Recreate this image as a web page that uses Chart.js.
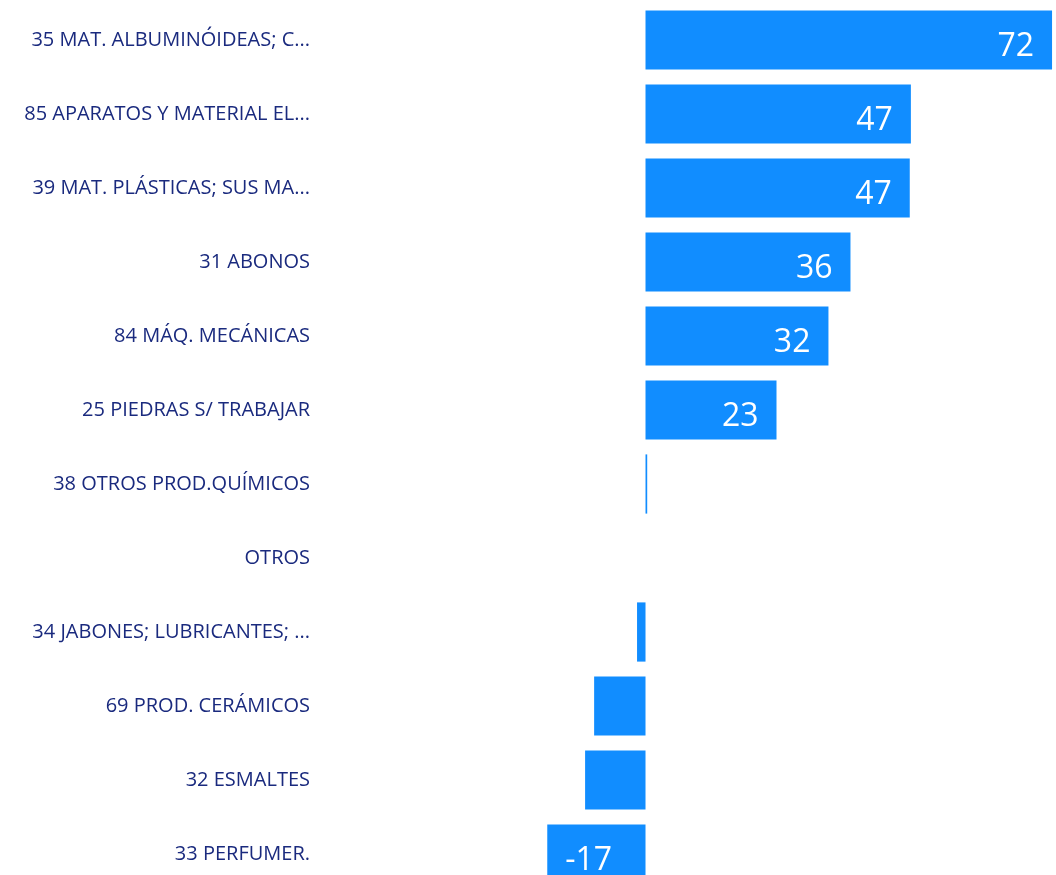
<!DOCTYPE html>
<html>
<head>
<meta charset="utf-8">
<script src="https://cdn.jsdelivr.net/npm/chart.js@4.4.0/dist/chart.umd.min.js"></script>
<style>
  html, body { margin: 0; padding: 0; background: #fff; overflow: hidden; }
</style>
</head>
<body>
<canvas id="myBarChart" width="1056" height="891"></canvas>
<script>
var categories = [
  "35 MAT. ALBUMINÓIDEAS; C...",
  "85 APARATOS Y MATERIAL EL...",
  "39 MAT. PLÁSTICAS; SUS MA...",
  "31 ABONOS",
  "84 MÁQ. MECÁNICAS",
  "25 PIEDRAS S/ TRABAJAR",
  "38 OTROS PROD.QUÍMICOS",
  "OTROS",
  "34 JABONES; LUBRICANTES; ...",
  "69 PROD. CERÁMICOS",
  "32 ESMALTES",
  "33 PERFUMER."
];
var values = [72, 47, 46.8, 36.3, 32.4, 23.2, 0.3, 0, -1.5, -9.1, -10.7, -17.4];

// white value labels inside the bar end, only when they fit
var insideLabels = {
  id: "insideLabels",
  afterDatasetsDraw: function (chart) {
    var ctx = chart.ctx;
    var meta = chart.getDatasetMeta(0);
    ctx.save();
    ctx.font = "32px 'Open Sans'";
    ctx.fillStyle = "#ffffff";
    ctx.textBaseline = "alphabetic";
    meta.data.forEach(function (bar, i) {
      var v = values[i];
      var txt = String(Math.round(v));
      var w = ctx.measureText(txt).width;
      var barW = Math.abs(bar.x - bar.base);
      if (w + 36 > barW) return;
      if (v >= 0) {
        ctx.textAlign = "right";
        ctx.fillText(txt, bar.x - 18, bar.y + 16);
      } else {
        ctx.textAlign = "left";
        ctx.fillText(txt, bar.x + 18, bar.y + 16);
      }
    });
    ctx.restore();
  }
};

var ctx = document.getElementById("myBarChart").getContext("2d");
var myBarChart = new Chart(ctx, {
  type: "bar",
  data: {
    labels: categories,
    datasets: [
      {
        data: values,
        backgroundColor: "#118DFF",
        borderWidth: 0,
        barPercentage: 0.8,
        categoryPercentage: 1
      }
    ]
  },
  options: {
    indexAxis: "y",
    responsive: false,
    animation: false,
    layout: { padding: { top: 3, right: 0, bottom: 0, left: 0 } },
    scales: {
      x: {
        display: false,
        min: -57.65,
        max: 72.7
      },
      y: {
        grid: { display: false, drawTicks: false },
        border: { display: false },
        ticks: {
          padding: 10,
          color: "#1A2A7E",
          font: { family: "'Open Sans'", size: 20 }
        },
        afterFit: function (scale) {
          scale.width = 320;
          scale.paddingTop = 0;
          scale.paddingBottom = 0;
        }
      }
    },
    plugins: {
      legend: { display: false },
      tooltip: { enabled: false }
    }
  },
  plugins: [insideLabels]
});
</script>
</body>
</html>
